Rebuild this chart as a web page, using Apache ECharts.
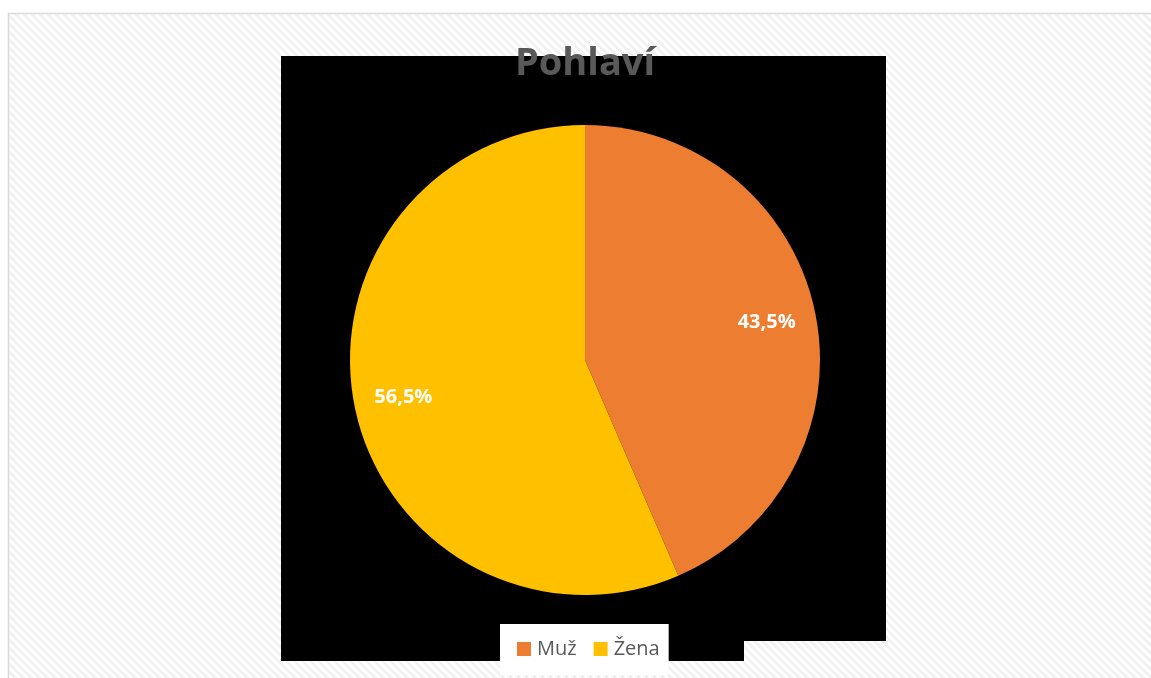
<!DOCTYPE html>
<html>
<head>
<meta charset="utf-8">
<title>Pohlaví</title>
<script src="https://cdn.jsdelivr.net/npm/echarts@6/dist/echarts.min.js"></script>
<style>
  html, body { margin: 0; padding: 0; background: #ffffff; }
  #chart { width: 1151px; height: 678px; }
</style>
</head>
<body>
<div id="chart"></div>
<script>
// Respondents by gender (share of total, %)
const categories = ['Muž', 'Žena'];
const shares = [43.5, 56.5];
const colors = ['#ED7D31', '#FFC000'];
const chartTitle = 'Pohlaví';

// Small tile with light diagonal stripes for the sheet background
function stripeTile() {
  const size = 8;
  const c = document.createElement('canvas');
  c.width = size; c.height = size;
  const ctx = c.getContext('2d');
  ctx.fillStyle = '#ffffff';
  ctx.fillRect(0, 0, size, size);
  ctx.fillStyle = '#f1f1f1';
  for (let y = 0; y < size; y++) {
    for (let x = 0; x < size; x++) {
      if (((x - y) % size + size) % size < 4) ctx.fillRect(x, y, 1, 1);
    }
  }
  return c;
}

const fmt = v => v.toFixed(1).replace('.', ',') + '%';
const pieData = categories.map((name, i) => ({
  name, value: shares[i], itemStyle: { color: colors[i] }
}));

const chart = echarts.init(document.getElementById('chart'), null, { renderer: 'canvas' });
chart.setOption({
  animation: false,
  backgroundColor: '#ffffff',
  graphic: [
    { type: 'rect', z: -10, silent: true,
      shape: { x: 8.5, y: 13.5, width: 1160, height: 680 },
      style: { fill: { image: stripeTile(), repeat: 'repeat' }, stroke: '#d9d9d9', lineWidth: 1.5 } },
    { type: 'rect', z: -9, silent: true,
      shape: { x: 281, y: 56, width: 605, height: 585 }, style: { fill: '#000000' } },
    { type: 'rect', z: -9, silent: true,
      shape: { x: 281, y: 640, width: 463, height: 21 }, style: { fill: '#000000' } }
  ],
  title: {
    text: chartTitle,
    left: 585,
    top: 45,
    padding: 0,
    textAlign: 'center',
    textStyle: { fontFamily: 'Open Sans', fontWeight: 'bold', fontSize: 38, color: '#595959' }
  },
  legend: {
    data: categories,
    left: 500,
    top: 624,
    orient: 'horizontal',
    backgroundColor: '#ffffff',
    padding: [15, 9, 16, 17],
    itemWidth: 14,
    itemHeight: 14,
    itemGap: 17,
    icon: 'rect',
    textStyle: { fontFamily: 'Open Sans', fontSize: 20, color: '#595959', padding: [0, 0, 0, 1] }
  },
  series: [
    {
      type: 'pie',
      center: [585, 360],
      radius: 235,
      startAngle: 90,
      clockwise: true,
      label: { show: false },
      labelLine: { show: false },
      itemStyle: { borderWidth: 0 },
      emphasis: { disabled: true },
      data: pieData
    },
    {
      // transparent ring that only carries the percentage labels
      type: 'pie',
      center: [585, 360],
      radius: [130, 235],
      startAngle: 90,
      clockwise: true,
      silent: true,
      legendHoverLink: false,
      itemStyle: { color: 'transparent', borderWidth: 0 },
      label: {
        show: true,
        position: 'inside',
        formatter: p => fmt(p.value),
        fontFamily: 'Open Sans',
        fontWeight: 'bold',
        fontSize: 20,
        color: '#ffffff'
      },
      labelLine: { show: false },
      emphasis: { disabled: true },
      data: categories.map((name, i) => ({ name: name + ' ', value: shares[i] }))
    }
  ]
});
</script>
</body>
</html>
